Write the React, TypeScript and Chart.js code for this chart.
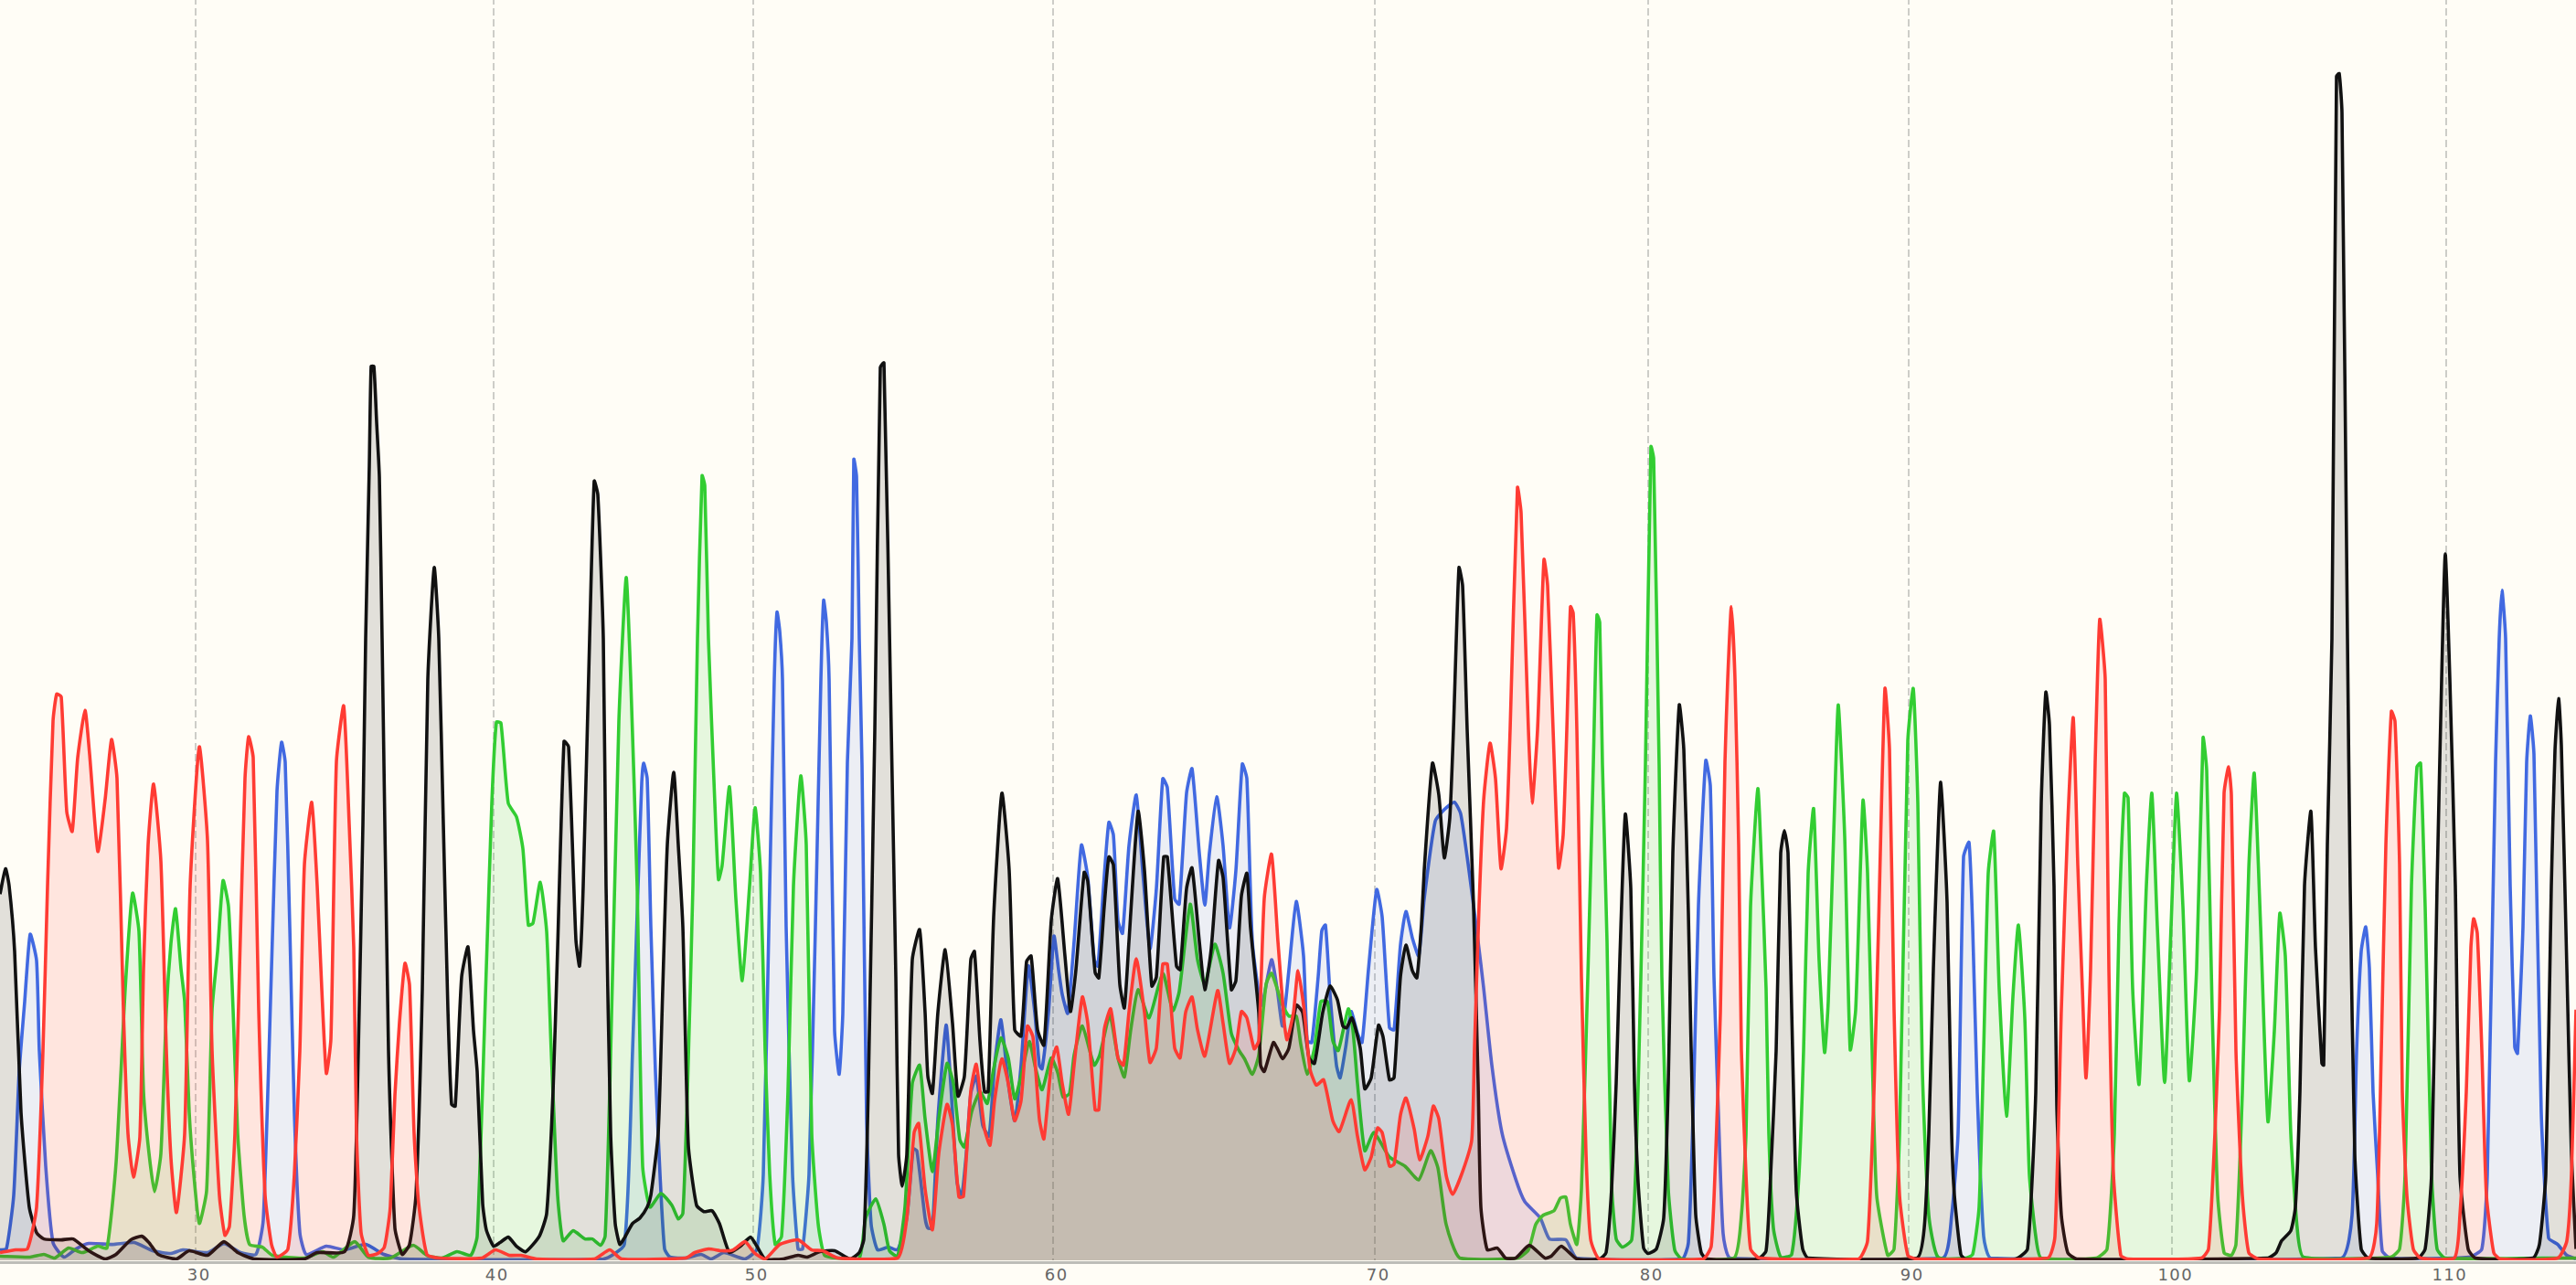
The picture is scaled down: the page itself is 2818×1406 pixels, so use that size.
import React, { useEffect, useRef } from "react";
import { Chart, registerables } from "chart.js";

Chart.register(...registerables);

const tickScans = [214, 540, 824, 1152, 1504, 1803, 2088, 2376, 2676];
const tickLabels = ["30", "40", "50", "60", "70", "80", "90", "100", "110"];

const blackTrace = [[0,401],[6,429],[10,410],[16,338],[23,161],[32,57],[40,29],[48,22],[67,21],[80,22],[97,9],[115,0],[127,5],[143,21],[155,25],[163,18],[173,5],[193,0],[207,9],[227,4],[245,19],[260,7],[278,0],[333,0],[347,7],[377,8],[387,48],[392,229],[397,478],[400,682],[404,872],[406,981],[409,981],[412,920],[415,860],[418,682],[425,229],[432,34],[440,5],[448,16],[455,70],[462,297],[468,637],[475,760],[480,682],[485,478],[490,274],[494,170],[498,168],[505,310],[512,343],[518,251],[522,206],[528,61],[532,32],[540,14],[547,18],[556,24],[565,14],[575,8],[590,25],[598,50],[605,184],[610,342],[617,569],[622,563],[630,351],[634,322],[638,410],[645,682],[650,855],[654,840],[660,682],[663,410],[668,138],[673,39],[678,16],[683,23],[692,39],[700,45],[708,57],[712,70],[720,138],[725,297],[730,455],[737,535],[742,455],[747,365],[753,125],[762,59],[770,52],[779,53],[787,39],[798,7],[810,14],[821,24],[828,14],[837,0],[857,0],[873,4],[883,2],[897,8],[913,9],[930,0],[940,7],[945,22],[950,193],[957,582],[963,980],[967,985],[975,582],[980,310],[983,115],[987,80],[992,115],[998,329],[1006,362],[1012,271],[1015,201],[1020,182],[1026,271],[1034,340],[1042,259],[1048,179],[1055,201],[1062,329],[1066,338],[1072,240],[1077,184],[1081,184],[1087,376],[1096,512],[1104,427],[1110,252],[1117,245],[1123,327],[1128,333],[1135,252],[1142,235],[1150,372],[1157,418],[1165,333],[1171,272],[1177,318],[1186,425],[1190,415],[1198,315],[1202,309],[1208,388],[1213,442],[1218,433],[1225,302],[1230,276],[1235,349],[1245,492],[1252,427],[1260,300],[1265,310],[1273,442],[1277,442],[1287,322],[1291,318],[1298,407],[1304,430],[1312,349],[1318,296],[1325,341],[1333,438],[1338,419],[1347,296],[1352,306],[1358,399],[1364,424],[1368,364],[1377,271],[1379,213],[1383,206],[1393,238],[1398,230],[1403,220],[1410,232],[1418,279],[1425,271],[1432,221],[1438,215],[1447,271],[1455,300],[1463,285],[1469,256],[1473,254],[1479,265],[1488,232],[1493,187],[1500,199],[1508,257],[1513,244],[1520,197],[1525,199],[1532,310],[1538,345],[1545,317],[1550,309],[1555,368],[1558,427],[1567,545],[1574,510],[1580,441],[1586,485],[1590,582],[1596,760],[1600,740],[1605,582],[1612,388],[1617,193],[1620,57],[1627,10],[1638,12],[1647,1],[1658,1],[1673,15],[1690,1],[1697,3],[1708,14],[1725,0],[1750,0],[1757,7],[1763,77],[1768,193],[1772,329],[1778,489],[1784,407],[1788,193],[1792,84],[1798,12],[1803,6],[1812,11],[1820,45],[1825,193],[1830,446],[1837,609],[1842,560],[1847,380],[1850,232],[1855,49],[1861,7],[1867,0],[1923,0],[1932,9],[1937,93],[1943,229],[1948,446],[1952,471],[1956,446],[1960,274],[1965,75],[1972,11],[1978,1],[2097,1],[2105,34],[2110,138],[2115,319],[2118,410],[2123,524],[2130,392],[2135,138],[2138,70],[2145,5],[2150,0],[2205,0],[2218,11],[2227,183],[2233,501],[2238,623],[2242,587],[2247,410],[2250,170],[2255,48],[2262,7],[2272,0],[2481,1],[2490,7],[2496,20],[2506,31],[2511,57],[2516,184],[2521,410],[2528,492],[2533,342],[2540,215],[2542,213],[2546,455],[2551,682],[2556,1300],[2559,1303],[2562,1260],[2568,682],[2571,410],[2576,115],[2583,11],[2591,1],[2645,1],[2653,11],[2660,93],[2666,410],[2671,637],[2675,775],[2680,637],[2686,410],[2691,93],[2700,11],[2708,1],[2771,1],[2778,16],[2785,93],[2791,410],[2795,559],[2799,616],[2802,564],[2808,319],[2813,115],[2818,11]];

const blueTrace = [[0,10],[7,11],[15,70],[21,206],[27,283],[33,357],[40,328],[43,229],[50,102],[58,18],[70,2],[83,11],[97,17],[123,16],[147,18],[167,9],[187,6],[200,10],[227,7],[245,17],[263,7],[280,5],[288,43],[297,319],[303,514],[308,568],[312,546],[317,365],[322,161],[328,29],[335,5],[357,14],[377,10],[400,16],[420,5],[440,0],[660,0],[683,16],[692,229],[698,410],[702,523],[704,545],[708,528],[712,365],[717,206],[722,93],[727,11],[733,2],[750,1],[767,5],[778,0],[792,7],[815,0],[828,11],[835,93],[842,410],[847,637],[850,711],[853,690],[856,637],[860,365],[867,93],[873,11],[878,11],[885,93],[892,365],[898,637],[901,724],[904,700],[907,637],[913,251],[918,203],[922,271],[927,546],[932,682],[934,879],[937,860],[940,682],[943,543],[948,154],[953,38],[960,10],[972,13],[982,10],[992,45],[999,121],[1003,119],[1012,45],[1015,34],[1020,34],[1026,154],[1035,257],[1040,193],[1047,84],[1052,69],[1057,115],[1062,182],[1068,201],[1075,147],[1082,135],[1088,213],[1095,263],[1103,193],[1110,152],[1117,213],[1125,322],[1132,271],[1137,213],[1140,209],[1147,271],[1153,355],[1158,318],[1162,291],[1168,270],[1175,349],[1183,455],[1190,419],[1197,329],[1201,322],[1207,407],[1213,480],[1218,466],[1223,372],[1228,358],[1235,454],[1243,510],[1250,427],[1258,341],[1265,407],[1272,528],[1277,518],[1285,396],[1290,390],[1298,512],[1304,539],[1312,446],[1318,389],[1323,446],[1331,508],[1338,454],[1345,364],[1352,427],[1359,544],[1364,528],[1370,349],[1380,279],[1391,329],[1397,298],[1403,256],[1410,318],[1418,393],[1426,333],[1430,240],[1435,238],[1442,310],[1446,361],[1450,367],[1455,291],[1462,213],[1466,199],[1472,232],[1478,272],[1485,248],[1490,238],[1497,318],[1506,406],[1512,376],[1520,254],[1525,252],[1532,345],[1538,382],[1545,353],[1552,333],[1558,396],[1570,481],[1580,494],[1591,502],[1598,489],[1607,427],[1617,349],[1623,298],[1632,213],[1643,139],[1658,88],[1668,63],[1685,45],[1695,22],[1713,21],[1725,1],[1840,0],[1847,18],[1852,154],[1858,388],[1866,548],[1871,520],[1875,310],[1880,157],[1885,28],[1893,1],[2125,1],[2135,48],[2142,138],[2148,442],[2154,458],[2158,365],[2163,183],[2170,25],[2178,1],[2561,1],[2573,48],[2578,229],[2583,338],[2588,365],[2592,319],[2596,183],[2601,93],[2606,9],[2615,1],[2701,2],[2715,11],[2721,93],[2730,546],[2734,682],[2737,735],[2741,682],[2746,410],[2751,233],[2754,226],[2760,365],[2764,546],[2768,597],[2772,555],[2780,161],[2788,23],[2798,16],[2808,4],[2818,0]];

const greenTrace = [[0,3],[33,2],[48,5],[60,1],[75,12],[90,7],[107,14],[117,12],[127,106],[137,297],[145,402],[152,360],[157,184],[163,116],[169,74],[176,116],[182,274],[187,347],[192,385],[198,319],[202,283],[207,161],[212,93],[218,39],[226,75],[232,274],[238,338],[244,416],[250,387],[255,274],[260,138],[267,48],[273,16],[287,13],[298,4],[333,1],[353,8],[365,2],[388,19],[403,2],[427,1],[452,15],[467,4],[483,1],[500,8],[515,4],[522,25],[532,319],[538,501],[543,590],[548,589],[556,501],[565,486],[572,451],[578,367],[583,369],[591,414],[598,360],[603,229],[610,70],[616,20],[627,31],[640,22],[648,22],[657,15],[662,25],[667,184],[677,591],[685,749],[690,637],[697,410],[703,102],[711,57],[723,72],[735,59],[742,44],[747,50],[752,184],[758,410],[763,682],[768,861],[771,850],[775,682],[782,501],[786,417],[790,433],[798,519],[805,396],[812,306],[820,410],[826,496],[832,424],[837,229],[842,93],[848,16],[855,25],[862,184],[868,410],[876,531],[882,455],[888,138],[895,39],[902,4],[917,1],[940,1],[947,45],[958,66],[967,38],[973,9],[982,3],[990,57],[998,193],[1006,213],[1012,154],[1020,96],[1027,154],[1036,215],[1043,193],[1050,131],[1055,123],[1063,162],[1072,184],[1080,171],[1087,209],[1095,243],[1103,221],[1110,176],[1117,201],[1126,239],[1133,209],[1140,186],[1150,221],[1157,205],[1163,178],[1170,182],[1175,224],[1184,256],[1197,213],[1203,224],[1214,268],[1223,221],[1230,200],[1237,252],[1245,296],[1257,265],[1272,314],[1283,273],[1290,294],[1302,390],[1310,329],[1318,302],[1329,346],[1338,314],[1347,248],[1355,230],[1362,219],[1370,203],[1377,224],[1385,302],[1391,314],[1403,279],[1410,267],[1418,267],[1423,236],[1430,203],[1438,232],[1445,283],[1452,283],[1458,240],[1464,229],[1475,275],[1480,252],[1485,193],[1493,119],[1503,139],[1520,112],[1537,102],[1552,87],[1565,119],[1573,100],[1582,38],[1597,1],[1660,1],[1672,10],[1680,38],[1688,48],[1700,53],[1707,67],[1713,68],[1718,38],[1725,16],[1730,77],[1737,310],[1743,543],[1747,708],[1750,700],[1753,543],[1758,349],[1763,80],[1768,22],[1775,13],[1785,21],[1790,115],[1795,310],[1800,543],[1806,893],[1809,880],[1815,543],[1818,310],[1825,77],[1832,10],[1840,0],[1897,1],[1905,48],[1910,137],[1915,387],[1923,517],[1927,433],[1932,297],[1935,138],[1940,34],[1948,2],[1960,5],[1968,93],[1973,229],[1978,424],[1984,495],[1990,328],[1996,227],[2000,283],[2007,501],[2011,609],[2018,464],[2024,230],[2030,274],[2038,504],[2043,424],[2048,229],[2053,70],[2065,4],[2072,11],[2078,138],[2087,569],[2093,627],[2098,501],[2103,206],[2110,48],[2120,2],[2150,1],[2158,5],[2165,57],[2170,229],[2175,424],[2181,470],[2187,297],[2195,157],[2202,288],[2208,367],[2215,265],[2220,93],[2227,25],[2233,1],[2293,1],[2305,11],[2313,138],[2318,365],[2324,512],[2328,507],[2333,297],[2340,192],[2348,410],[2354,512],[2360,365],[2368,194],[2375,365],[2381,512],[2388,387],[2395,196],[2403,319],[2410,573],[2414,537],[2420,274],[2426,70],[2433,7],[2441,4],[2446,16],[2453,183],[2460,428],[2466,534],[2473,365],[2481,151],[2488,251],[2494,380],[2500,333],[2506,138],[2513,34],[2520,2],[2615,2],[2625,11],[2631,93],[2638,410],[2644,541],[2648,545],[2653,387],[2660,93],[2666,11],[2675,1],[2781,1],[2818,1]];

const redTrace = [[0,7],[17,10],[30,11],[40,57],[47,229],[52,410],[58,591],[62,621],[67,618],[73,492],[79,470],[85,551],[93,603],[98,555],[107,448],[115,505],[122,571],[128,528],[135,274],[140,138],[146,90],[153,134],[157,319],[162,455],[168,522],[176,437],[182,229],[187,111],[193,51],[202,138],[208,410],[218,563],[227,460],[232,229],[240,70],[246,26],[251,36],[257,138],[262,319],[268,528],[272,574],[277,551],[283,274],[290,70],[297,16],[303,2],[315,11],[322,93],[328,229],[333,433],[341,502],[347,410],[352,297],[357,204],[362,242],[368,546],[376,608],[382,478],[387,342],[390,138],[395,29],[403,4],[413,6],[420,12],[423,26],[427,58],[432,180],[437,260],[443,325],[448,301],[453,138],[458,61],[467,5],[480,1],[527,1],[542,10],[557,4],[570,4],[587,0],[650,0],[667,10],[680,0],[750,1],[760,7],[775,11],[790,9],[802,10],[815,19],[825,7],[837,0],[853,16],[873,21],[888,10],[900,9],[917,1],[982,1],[992,45],[1000,139],[1005,149],[1012,77],[1020,32],[1027,116],[1036,170],[1042,147],[1049,68],[1054,69],[1062,185],[1068,214],[1077,143],[1083,125],[1088,174],[1096,220],[1103,193],[1110,152],[1117,174],[1124,256],[1130,244],[1137,154],[1142,132],[1150,213],[1156,233],[1162,193],[1169,159],[1175,213],[1184,288],[1190,259],[1198,164],[1202,164],[1208,252],[1215,275],[1223,221],[1229,213],[1235,271],[1243,330],[1252,271],[1258,216],[1265,232],[1272,324],[1277,324],[1285,232],[1291,221],[1297,271],[1304,288],[1310,252],[1318,223],[1332,295],[1338,259],[1345,215],[1352,232],[1358,272],[1364,265],[1372,231],[1377,240],[1383,396],[1391,445],[1398,349],[1405,259],[1408,241],[1415,271],[1420,317],[1427,271],[1433,209],[1440,191],[1448,197],[1458,152],[1465,140],[1478,175],[1485,135],[1493,98],[1500,112],[1507,144],[1512,139],[1520,102],[1525,104],[1532,158],[1538,177],[1547,143],[1553,109],[1562,135],[1568,168],[1574,154],[1582,92],[1589,71],[1600,96],[1610,131],[1613,232],[1618,388],[1623,504],[1630,567],[1636,528],[1642,429],[1648,473],[1652,582],[1660,848],[1664,820],[1672,582],[1676,501],[1682,582],[1689,769],[1693,740],[1699,582],[1705,430],[1710,466],[1714,582],[1718,717],[1721,710],[1725,582],[1730,310],[1735,116],[1740,22],[1750,0],[1863,0],[1872,14],[1877,119],[1882,271],[1887,546],[1890,637],[1894,717],[1898,637],[1902,455],[1905,229],[1910,93],[1915,11],[1925,1],[2033,0],[2043,20],[2050,183],[2055,365],[2062,627],[2067,560],[2072,274],[2078,70],[2087,4],[2097,0],[2240,1],[2248,25],[2255,274],[2262,478],[2268,595],[2273,433],[2278,297],[2282,199],[2287,319],[2292,546],[2297,703],[2303,637],[2307,319],[2312,93],[2320,4],[2328,0],[2408,1],[2416,11],[2423,138],[2428,274],[2433,512],[2438,541],[2441,510],[2446,229],[2453,70],[2460,7],[2471,0],[2591,1],[2600,39],[2605,229],[2610,455],[2616,602],[2620,591],[2625,433],[2628,184],[2633,70],[2640,11],[2648,1],[2685,1],[2691,48],[2698,184],[2703,342],[2706,374],[2710,358],[2715,229],[2720,70],[2728,7],[2735,0],[2798,1],[2808,20],[2813,93],[2818,274]];

const channels = [
  { name: "A", trace: redTrace, line: "#ff3b33", fill: "rgba(255,59,51,0.12)", order: 1 },
  { name: "T", trace: blackTrace, line: "#111111", fill: "rgba(17,17,17,0.12)", order: 2 },
  { name: "G", trace: greenTrace, line: "#32cd32", fill: "rgba(50,205,50,0.12)", order: 3 },
  { name: "C", trace: blueTrace, line: "#4169e1", fill: "rgba(65,105,225,0.1)", order: 4 },
];

const paperPlugin = {
  id: "paper",
  beforeDraw(chart: any) {
    const { ctx, width, height, chartArea } = chart;
    ctx.save();
    ctx.fillStyle = "#fffdf6";
    ctx.fillRect(0, 0, width, height);
    ctx.fillStyle = "#bdbdb8";
    ctx.fillRect(0, chartArea.bottom + 1, width, 3);
    ctx.restore();
    ctx.letterSpacing = "1.4px";
  },
};

export default function App() {
  const ref = useRef<HTMLCanvasElement | null>(null);
  useEffect(() => {
    document.body.style.margin = "0";
    document.body.style.background = "#fffdf6";
    const canvas = ref.current as HTMLCanvasElement;
    canvas.getContext("2d", { alpha: false });
    const chart = new Chart(canvas, {
      type: "line",
      plugins: [paperPlugin],
      data: {
        datasets: channels.map((c) => ({
          label: c.name,
          data: c.trace.map(([x, y]) => ({ x, y })),
          borderColor: c.line,
          backgroundColor: c.fill,
          borderWidth: 3.6,
          pointRadius: 0,
          fill: "start",
          tension: 0.18,
          order: c.order,
        })),
      },
      options: {
        responsive: false,
        animation: false,
        devicePixelRatio: 1,
        layout: { padding: 0 },
        plugins: { legend: { display: false }, tooltip: { enabled: false } },
        scales: {
          x: {
            type: "linear",
            min: 0,
            max: 2818,
            afterBuildTicks: (s: any) => {
              s.ticks = tickScans.map((value) => ({ value }));
            },
            afterFit: (s: any) => {
              s.height = 27;
            },
            grid: { color: "#cdcdc8", lineWidth: 2, tickLength: 0, drawTicks: false },
            border: { display: false, dash: [8, 4], dashOffset: 3 },
            ticks: {
              autoSkip: false,
              maxRotation: 0,
              padding: 7,
              labelOffset: 3.7,
              color: "#666666",
              font: { family: "'DejaVu Sans'", size: 18 },
              callback: (v: any) => tickLabels[tickScans.indexOf(Number(v))] ?? "",
            },
          },
          y: { display: false, min: -1.5, max: 1383.9 },
        },
      },
    } as any);
    return () => chart.destroy();
  }, []);
  return (
    <canvas
      ref={ref}
      width={2818}
      height={1406}
      style={{ display: "block", position: "fixed", left: 0, top: 0, width: 2818, height: 1406, background: "#fffdf6" }}
    />
  );
}
